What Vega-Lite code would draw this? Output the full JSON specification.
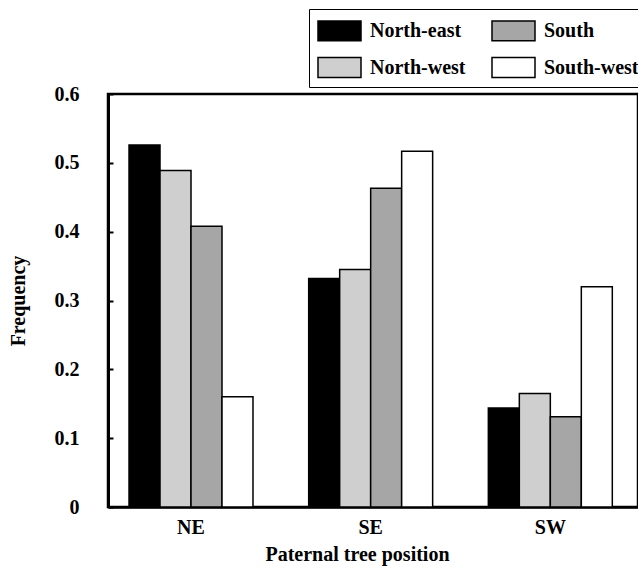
{
  "$schema": "https://vega.github.io/schema/vega-lite/v6.json",
  "autosize": "none",
  "width": 530,
  "height": 413,
  "padding": {"left": 108, "top": 94, "right": 0, "bottom": 67},
  "background": "white",
  "config": {
    "font": "Liberation Serif",
    "view": {"stroke": "black", "strokeWidth": 2.5},
    "axis": {"labelFont": "Liberation Serif", "titleFont": "Liberation Serif", "labelFontWeight": "bold", "titleFontWeight": "bold", "labelColor": "black", "titleColor": "black", "domainColor": "black", "tickColor": "black", "grid": false}
  },
  "data": {
    "values": [
      {"pos": "NE", "series": "North-east", "freq": 0.526},
      {"pos": "NE", "series": "North-west", "freq": 0.489},
      {"pos": "NE", "series": "South", "freq": 0.408},
      {"pos": "NE", "series": "South-west", "freq": 0.160},
      {"pos": "SE", "series": "North-east", "freq": 0.332},
      {"pos": "SE", "series": "North-west", "freq": 0.345},
      {"pos": "SE", "series": "South", "freq": 0.463},
      {"pos": "SE", "series": "South-west", "freq": 0.517},
      {"pos": "SW", "series": "North-east", "freq": 0.144},
      {"pos": "SW", "series": "North-west", "freq": 0.165},
      {"pos": "SW", "series": "South", "freq": 0.131},
      {"pos": "SW", "series": "South-west", "freq": 0.320}
    ]
  },
  "mark": {"type": "bar", "stroke": "black", "strokeWidth": 1.5},
  "encoding": {
    "x": {
      "field": "pos", "type": "nominal",
      "scale": {"paddingInner": 0.31, "paddingOuter": 0.13, "align": 0.45},
      "axis": {"labelAngle": 0, "labelFontSize": 20, "titleFontSize": 20, "title": "Paternal tree position", "ticks": false, "domainWidth": 2.5, "labelPadding": 10, "titlePadding": 7, "titleX": 249}
    },
    "xOffset": {
      "field": "series", "type": "nominal",
      "scale": {"domain": ["North-east", "North-west", "South", "South-west"], "paddingInner": 0}
    },
    "y": {
      "field": "freq", "type": "quantitative",
      "scale": {"domain": [0, 0.6], "nice": false},
      "axis": {"values": [0, 0.1, 0.2, 0.3, 0.4, 0.5, 0.6], "labelExpr": "datum.value === 0 ? '0' : format(datum.value, '.1f')", "labelFontSize": 20, "titleFontSize": 20, "title": "Frequency", "tickSize": -5, "tickWidth": 2, "domainWidth": 3, "labelPadding": 34, "titlePadding": 26}
    },
    "fill": {
      "field": "series", "type": "nominal",
      "scale": {"domain": ["North-east", "South", "North-west", "South-west"], "range": ["#000000", "#a6a6a6", "#cfcfcf", "#ffffff"]},
      "legend": {
        "title": null, "orient": "none", "legendX": 201, "legendY": -85, "columns": 2,
        "direction": "horizontal",
        "symbolType": "M-1.5,-0.69H1.5V0.69H-1.5Z", "symbolSize": 822, "symbolStrokeColor": "black", "symbolStrokeWidth": 1.5, "symbolOpacity": 1, "symbolOffset": 9,
        "labelFont": "Liberation Serif", "labelFontWeight": "bold", "labelFontSize": 20, "labelColor": "black", "labelOffset": 15,
        "columnPadding": 22, "rowPadding": 8, "padding": 6, "strokeColor": "black", "fillColor": "white", "labelLimit": 200
      }
    }
  }
}
